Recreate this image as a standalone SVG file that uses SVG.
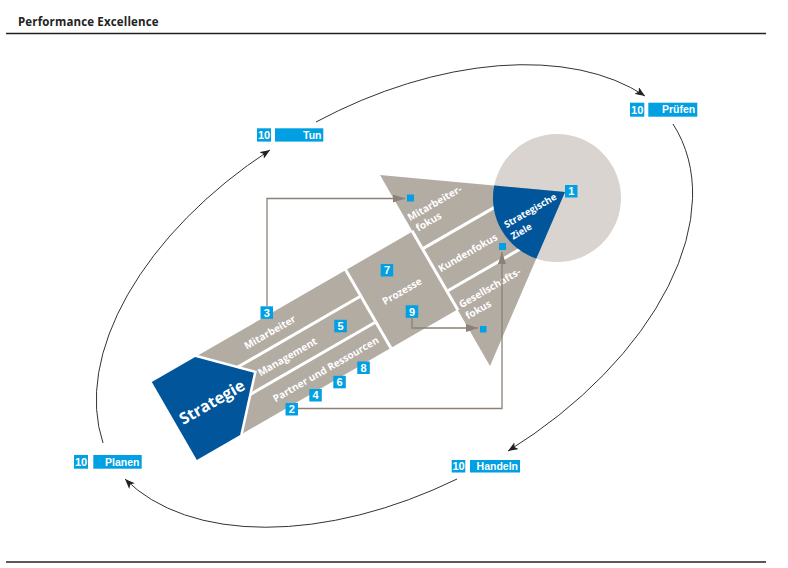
<svg xmlns="http://www.w3.org/2000/svg" width="788" height="568" viewBox="0 0 788 568">
<defs>
<style>
.title{font-family:"Open Sans","Liberation Sans",sans-serif;font-weight:700;font-size:11.5px;letter-spacing:0.15px;fill:#222}
.rule{stroke:#222;stroke-width:1.5}
.cyc{fill:none;stroke:#333;stroke-width:1}
.lbl{fill:#00a0e2}
.lt{font-family:"Liberation Sans",Arial,sans-serif;font-weight:700;font-size:10.5px;fill:#fff}
.num{font-family:"Liberation Sans",Arial,sans-serif;font-weight:700;font-size:11px;fill:#fff;text-anchor:middle}
.gray{fill:#b3aca3}
.blue{fill:#00559b}
.wl{stroke:#fff;stroke-width:3}
.st{font-family:"Open Sans","Liberation Sans",sans-serif;font-weight:700;font-size:10px;fill:#fff}
.con{fill:none;stroke:#8b8178;stroke-width:1.3}
</style>
<marker id="ah" markerUnits="userSpaceOnUse" markerWidth="12" markerHeight="8" refX="10" refY="4" orient="auto"><path d="M0,0 L10,4 L0,8 L2.5,4 z" fill="#222"/></marker>
<marker id="ag" markerUnits="userSpaceOnUse" markerWidth="13" markerHeight="8" refX="12" refY="4" orient="auto"><path d="M0,0 L12,4 L0,8 z" fill="#8b8178"/></marker>
</defs>
<rect width="788" height="568" fill="#fff"/>
<text class="title" x="18" y="26">Performance Excellence</text>
<line class="rule" x1="6" y1="33.5" x2="766" y2="33.5"/>
<line class="rule" x1="6" y1="562" x2="766" y2="562"/>

<g id="cycle-connectors" class="cyc" marker-end="url(#ah)">
<path d="M103,443 A326,197 -29.5 0 1 270,150"/>
<path d="M316,122 A326,197 -29.5 0 1 645,96"/>
<path d="M673,124 A326,197 -29.5 0 1 508,451"/>
<path d="M457,479 A326,197 -29.5 0 1 125,479"/>
</g>

<g id="goal-circle"><circle cx="557" cy="198" r="64" fill="#d9d4cf"/></g>

<g id="arrow-head"><polygon class="gray" points="380,175 565,192 490,366"/></g>
<g id="arrow-shaft" transform="translate(435 270.5) rotate(-30)">
<rect class="gray" x="-251" y="-45" width="251" height="90"/>
<g class="wl">
<line x1="0" y1="-46" x2="0" y2="46"/>
<line x1="-77" y1="-46" x2="-77" y2="46"/>
<line x1="-252" y1="-15" x2="-77" y2="-15"/>
<line x1="-252" y1="15" x2="-77" y2="15"/>
<line x1="0" y1="-25" x2="100" y2="-25"/>
<line x1="0" y1="24" x2="100" y2="24"/>
</g>
</g>

<g id="strategische-ziele">
<path class="blue" d="M494.2,185.5 L565,192 L536.3,258.6 A64,64 0 0 1 494.2,185.5 Z"/>
</g>

<g id="labels-rot" transform="translate(435 270.5) rotate(-30)">
<g id="strategie">
<polygon class="blue" points="-301,-45 -251,-45 -208,-2 -251,45 -301,45" stroke="#fff" stroke-width="5" stroke-linejoin="miter" paint-order="stroke"/>
<text x="-259" y="8" text-anchor="middle" style="font-family:'Open Sans','Liberation Sans',sans-serif;font-weight:700;font-size:16px;fill:#fff">Strategie</text>
</g>
<g id="mitarbeiter"><text class="st" x="-174" y="-25.5" text-anchor="middle">Mitarbeiter</text></g>
<g id="management"><text class="st" x="-171" y="4.5" text-anchor="middle">Management</text></g>
<g id="partner"><text class="st" x="-144" y="34.5" text-anchor="middle">Partner und Ressourcen</text></g>
<g id="prozesse"><text class="st" x="-39" y="5" text-anchor="middle">Prozesse</text></g>
<g id="mitarbeiterfokus"><text class="st" x="3" y="-55">Mitarbeiter-</text><text class="st" x="5" y="-42">fokus</text></g>
<g id="kundenfokus"><text class="st" x="4" y="4.5">Kundenfokus</text></g>
<g id="gesellschaftsfokus"><text class="st" x="4" y="46">Gesellschafts-</text><text class="st" x="4" y="59">fokus</text></g>
<g id="ziele-text"><text class="st" style="font-size:9.5px" x="83" y="-1">Strategische</text><text class="st" style="font-size:9.5px" x="83" y="12.5">Ziele</text></g>
</g>

<g id="connectors" class="con" marker-end="url(#ag)">
<path d="M267,306 V198.5 H405"/>
<path d="M412,317 V328 H478"/>
<path d="M298,408.5 H502 V252"/>
</g>

<g id="targets" class="lbl">
<rect x="407" y="194.5" width="7" height="7"/>
<rect x="499" y="243" width="7" height="7"/>
<rect x="480" y="326" width="6.5" height="6.5"/>
</g>

<g id="badges">
<g id="b1"><rect class="lbl" x="565" y="185" width="12.5" height="12.5"/><text class="num" x="571.25" y="195.4">1</text></g>
<g id="b2"><rect class="lbl" x="285.5" y="403" width="12.5" height="12.5"/><text class="num" x="291.75" y="413.4">2</text></g>
<g id="b3"><rect class="lbl" x="260.5" y="306.3" width="12.5" height="12.5"/><text class="num" x="266.75" y="316.7">3</text></g>
<g id="b4"><rect class="lbl" x="309.3" y="389" width="12.5" height="12.5"/><text class="num" x="315.55" y="399.4">4</text></g>
<g id="b5"><rect class="lbl" x="334.3" y="319.8" width="12.5" height="12.5"/><text class="num" x="340.55" y="330.2">5</text></g>
<g id="b6"><rect class="lbl" x="333.3" y="375.8" width="12.5" height="12.5"/><text class="num" x="339.55" y="386.2">6</text></g>
<g id="b7"><rect class="lbl" x="380.7" y="264" width="12.5" height="12.5"/><text class="num" x="386.95" y="274.4">7</text></g>
<g id="b8"><rect class="lbl" x="357.3" y="361.5" width="12.5" height="12.5"/><text class="num" x="363.55" y="371.9">8</text></g>
<g id="b9"><rect class="lbl" x="405.7" y="305.3" width="12.5" height="12.5"/><text class="num" x="411.95" y="315.7">9</text></g>
</g>

<g id="tun"><rect class="lbl" x="257" y="128.3" width="14" height="13.3"/><text class="num" x="264" y="138.8">10</text><rect class="lbl" x="275" y="128.3" width="48.3" height="13.3"/><text class="lt" x="321.5" y="138.6" text-anchor="end">Tun</text></g>
<g id="pruefen"><rect class="lbl" x="630" y="102.7" width="14.3" height="14"/><text class="num" x="637.15" y="113.5">10</text><rect class="lbl" x="648.3" y="102.7" width="49" height="14"/><text class="lt" x="695.2" y="113.3" text-anchor="end">Prüfen</text></g>
<g id="planen"><rect class="lbl" x="74" y="455" width="14" height="13.7"/><text class="num" x="81" y="465.8">10</text><rect class="lbl" x="93.3" y="455" width="48.4" height="13.7"/><text class="lt" x="139.5" y="465.6" text-anchor="end">Planen</text></g>
<g id="handeln"><rect class="lbl" x="451.7" y="460" width="13.6" height="12.5"/><text class="num" x="458.5" y="470.4">10</text><rect class="lbl" x="470" y="460" width="50" height="12.5"/><text class="lt" x="518" y="470.2" text-anchor="end">Handeln</text></g>
</svg>
